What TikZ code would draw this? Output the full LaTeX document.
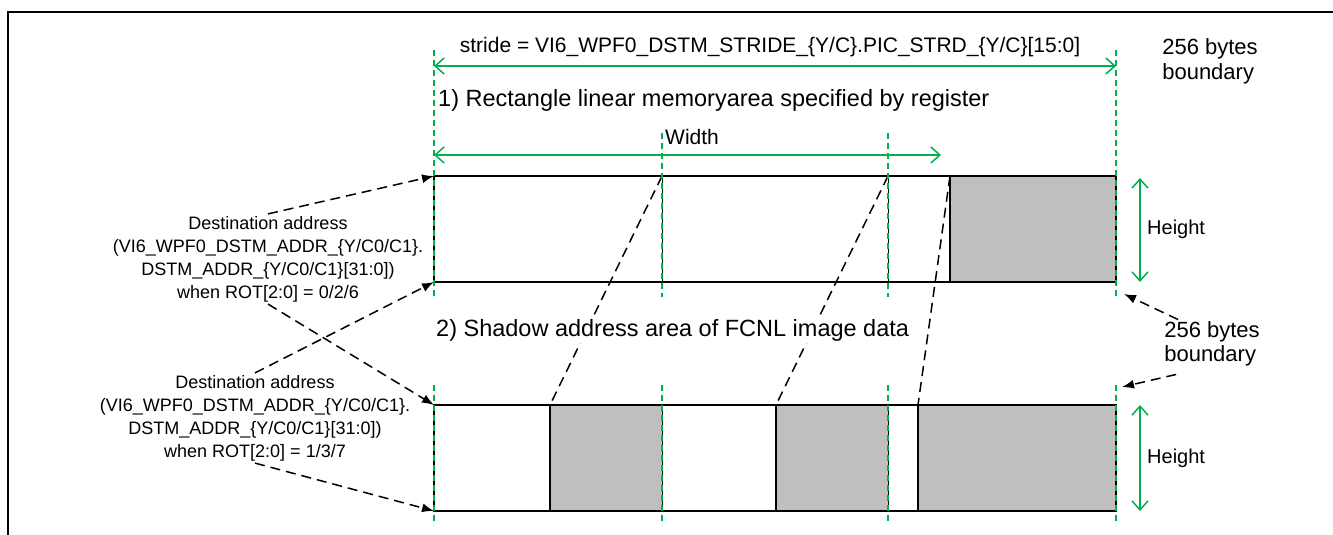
\documentclass[tikz,border=0pt]{standalone}
\usepackage{fontspec}
\setmainfont{Liberation Sans}
\usetikzlibrary{arrows.meta}

\definecolor{dimgreen}{RGB}{0,176,80}
\definecolor{areagray}{RGB}{191,191,191}

\begin{document}
\begin{tikzpicture}[x=1pt, y=-1pt,
  bigtext/.style={font=\fontsize{21}{25}\selectfont, inner sep=2pt},
  titletext/.style={font=\fontsize{23.5}{28}\selectfont, inner sep=2pt},
  sidetext/.style={font=\fontsize{18}{23}\selectfont, inner sep=2pt, align=center},
  guide/.style={dimgreen, line width=1.2pt, dash pattern=on 6pt off 4pt},
  dimline/.style={dimgreen, line width=1.5pt,
    {Straight Barb[length=9pt,width=16pt]}-{Straight Barb[length=9pt,width=16pt]}},
  ptr/.style={line width=1.5pt, dash pattern=on 10pt off 6pt, -{Latex[length=12pt,width=9pt]}},
  mapline/.style={line width=1.5pt, dash pattern=on 10pt off 6pt},
  block/.style={line width=1.8pt}]
  \useasboundingbox (0,0) rectangle (1333,535);
  % frame
  \draw[line width=2pt] (8,535) -- (8,12) -- (1333,12);

  % corners of the two rows
  \coordinate (tnw) at (434,176);
  \coordinate (tsw) at (434,282);
  \coordinate (bnw) at (434,405);
  \coordinate (bsw) at (434,511);
  \coordinate (tcut) at (1124,294);
  \coordinate (bcut) at (1122,387);

  % 1) linear area
  \fill[areagray] (950,176) rectangle (1116,282);
  \draw[block] (434,176) rectangle (1116,282);
  \draw[block] (950,176) -- (950,282);
  \foreach \x in {662,888}
    \draw[line width=1pt] (\x,176) -- (\x,282);

  % 2) shadow area
  \foreach \a/\b in {550/662, 776/888, 918/1116}
    \fill[areagray] (\a,405) rectangle (\b,511);
  \draw[block] (434,405) rectangle (1116,511);
  \foreach \x in {550,776,918}
    \draw[block] (\x,405) -- (\x,511);
  \foreach \x in {662,888}
    \draw[line width=1pt] (\x,405) -- (\x,511);

  % mapping
  \foreach \a/\b in {662/550, 888/776, 950/918}
    \draw[mapline] (\a,176) -- (\b,405);

  % guides
  \foreach \x in {434,1116}
    \draw[guide] (\x,50) -- (\x,297);
  \foreach \x in {662,888}
    \draw[guide] (\x,133) -- (\x,297);
  \foreach \x in {434,662,888,1116}
    \draw[guide] (\x,385) -- (\x,525);

  % dimensions
  \draw[dimline] (434,66) -- (1116,66);
  \draw[dimline] (434,155) -- (941,155);
  \draw[dimline] (1140,178) -- (1140,282);
  \draw[dimline] (1140,405) -- (1140,511);

  % labels
  \node[bigtext] (stride) at (770,47)
    {stride = VI6\_WPF0\_DSTM\_STRIDE\_\{Y/C\}.PIC\_STRD\_\{Y/C\}[15:0]};
  \node[bigtext, font=\fontsize{22}{25}\selectfont, align=left] (bnd1) at (1210,61) {256 bytes\\boundary};
  \node[titletext, anchor=west] (title1) at (436,100)
    {1) Rectangle linear memoryarea specified by register};
  \node[bigtext, anchor=west] (wlab) at (663,137) {Width};
  \node[bigtext, anchor=west, font=\fontsize{20}{24}\selectfont] (h1) at (1145,229) {Height};
  \node[titletext, anchor=west, fill=white] (title2) at (434,330)
    {2) Shadow address area of FCNL image data};
  \node[bigtext, font=\fontsize{22}{24}\selectfont, align=left] (bnd2) at (1212,344) {256 bytes\\boundary};
  \node[bigtext, anchor=west, font=\fontsize{20}{24}\selectfont] (h2) at (1145,458) {Height};
  \node[sidetext] (dst1) at (268,259)
    {Destination address\\(VI6\_WPF0\_DSTM\_ADDR\_\{Y/C0/C1\}.\\DSTM\_ADDR\_\{Y/C0/C1\}[31:0])\\when ROT[2:0] = 0/2/6};
  \node[sidetext] (dst2) at (255,418)
    {Destination address\\(VI6\_WPF0\_DSTM\_ADDR\_\{Y/C0/C1\}.\\DSTM\_ADDR\_\{Y/C0/C1\}[31:0])\\when ROT[2:0] = 1/3/7};

  % pointers
  \draw[ptr] (dst1.north) -- (tnw);
  \draw[ptr] (dst1.south) -- (bnw);
  \draw[ptr] (dst2.north) -- (tsw);
  \draw[ptr] (dst2.south) -- (bsw);
  \draw[ptr] ([xshift=16pt]bnd2.north west) -- (tcut);
  \draw[ptr] ([xshift=16pt,yshift=-6pt]bnd1.north west |- bnd2.south) -- (bcut);
\end{tikzpicture}
\end{document}
